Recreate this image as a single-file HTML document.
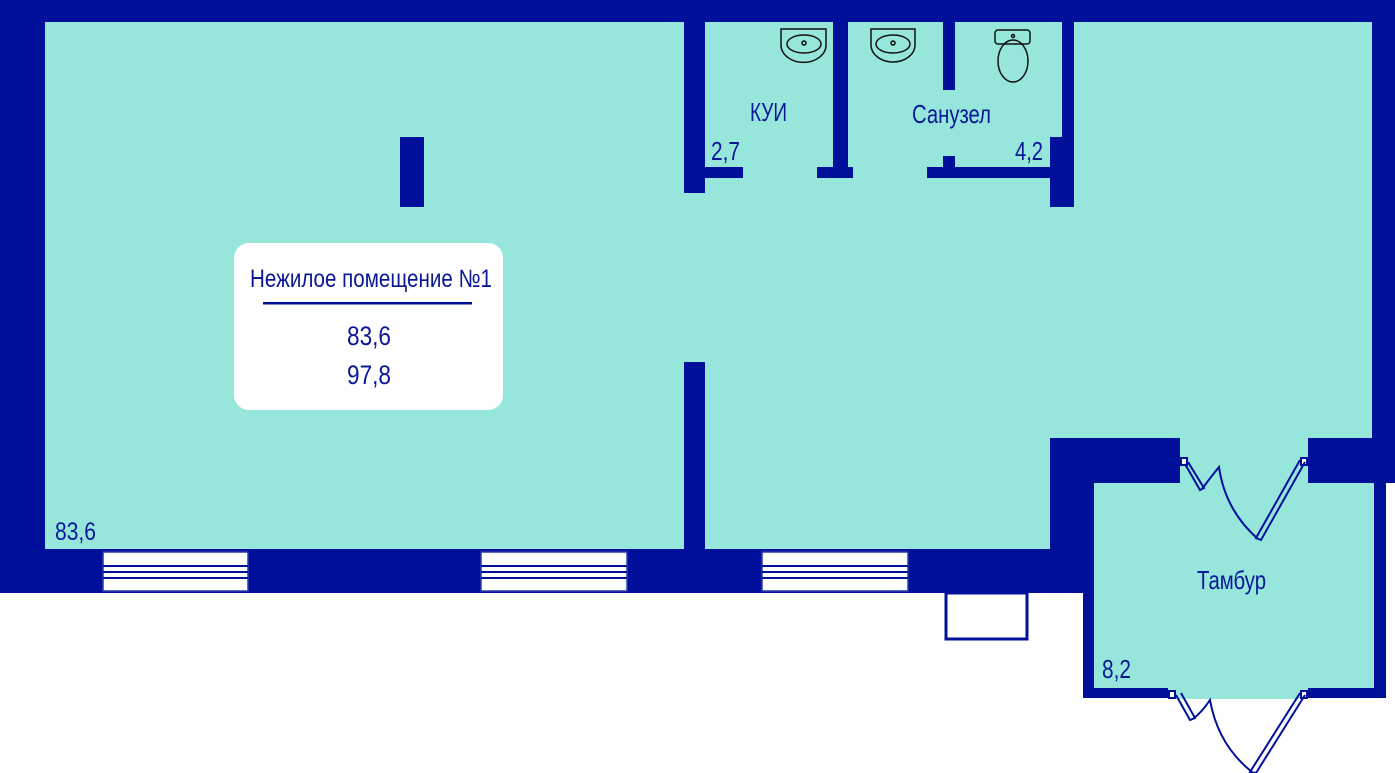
<!DOCTYPE html>
<html><head><meta charset="utf-8"><style>
html,body{margin:0;padding:0;background:#fff;}
svg{display:block}
text{font-family:"Liberation Sans Narrow","Liberation Sans",sans-serif;fill:#0a1896;}
</style></head><body>
<svg width="1395" height="773" viewBox="0 0 1395 773" xmlns="http://www.w3.org/2000/svg">
<rect x="0" y="0" width="1395" height="593" fill="#00109a"/>
<rect x="1083" y="438" width="303" height="260" fill="#00109a"/>
<rect x="1386" y="483" width="9" height="110" fill="#fff"/>
<path d="M45 22 H1372 V438 H1050 V549 H45 Z" fill="#96e6dc"/>
<rect x="1094" y="483" width="280" height="205" fill="#96e6dc"/>
<rect x="1180" y="438" width="128" height="46" fill="#96e6dc"/>
<rect x="1168" y="687" width="140" height="12" fill="#96e6dc"/>
<g fill="#00109a">
<rect x="684" y="22" width="21" height="171"/>
<rect x="684" y="362" width="21" height="188"/>
<rect x="400" y="137" width="24" height="70"/>
<rect x="833" y="22" width="15" height="156"/>
<rect x="705" y="167" width="38" height="11"/>
<rect x="817" y="167" width="36" height="11"/>
<rect x="927" y="167" width="123" height="11"/>
<rect x="943" y="22" width="12" height="68"/>
<rect x="943" y="156" width="12" height="12"/>
<rect x="1062" y="22" width="12" height="185"/>
<rect x="1050" y="137" width="24" height="70"/>
</g>
<g fill="#fff" stroke="#2a3aaf" stroke-width="1.5">
<rect x="103" y="552" width="145" height="39"/>
<rect x="481" y="552" width="146" height="39"/>
<rect x="762" y="552" width="146" height="39"/>
</g>
<g stroke="#00109a" stroke-width="2">
<line x1="103" y1="566" x2="248" y2="566"/><line x1="103" y1="572" x2="248" y2="572"/><line x1="103" y1="578" x2="248" y2="578"/>
<line x1="481" y1="566" x2="627" y2="566"/><line x1="481" y1="572" x2="627" y2="572"/><line x1="481" y1="578" x2="627" y2="578"/>
<line x1="762" y1="566" x2="908" y2="566"/><line x1="762" y1="572" x2="908" y2="572"/><line x1="762" y1="578" x2="908" y2="578"/>
</g>
<rect x="946" y="593" width="81" height="46" fill="#fff" stroke="#00109a" stroke-width="3"/>
<g fill="none" stroke="#111" stroke-width="1.5">
<path d="M781 29 H826 V45 A22 17 0 0 1 781 45 Z"/><ellipse cx="804" cy="44" rx="17" ry="9"/><circle cx="804" cy="43" r="2"/>
<path d="M871 29 H915 V45 A22 17 0 0 1 871 45 Z"/><ellipse cx="893" cy="44" rx="17" ry="9"/><circle cx="893" cy="43" r="2"/>
<rect x="995" y="30" width="35" height="14" rx="3"/><ellipse cx="1013" cy="61" rx="15" ry="21"/><circle cx="1013" cy="36" r="1.5"/>
</g>
<g fill="none" stroke="#00109a" stroke-width="2">
<rect x="1181" y="458" width="6" height="7" fill="#fff"/>
<path d="M1188 462 L1204 488 L1200 490 L1185 464"/>
<path d="M1202 489 Q1210 478 1219 467 Q1225 510 1258 539"/>
<rect x="1301" y="458" width="6" height="7" fill="#fff"/>
<path d="M1300 460 L1256 538 L1261 540 L1305 462"/>
<rect x="1169" y="691" width="6" height="7" fill="#fff"/>
<path d="M1176 695 L1190 720 L1195 718 L1181 693"/>
<path d="M1193 719 Q1202 712 1210 700 Q1218 745 1252 772"/>
<rect x="1301" y="691" width="6" height="7" fill="#fff"/>
<path d="M1300 693 L1250 772 L1256 773 L1305 695"/>
</g>
<rect x="234" y="243" width="269" height="167" rx="15" fill="#fff"/>
<text x="250" y="287" font-size="25" textLength="242" lengthAdjust="spacingAndGlyphs">Нежилое помещение №1</text>
<rect x="263" y="302" width="209" height="2.5" fill="#00109a"/>
<text x="347" y="345" font-size="27" textLength="44" lengthAdjust="spacingAndGlyphs">83,6</text>
<text x="347" y="384" font-size="27" textLength="44" lengthAdjust="spacingAndGlyphs">97,8</text>
<text x="55" y="540" font-size="25" textLength="41" lengthAdjust="spacingAndGlyphs">83,6</text>
<text x="750" y="121" font-size="26" textLength="37" lengthAdjust="spacingAndGlyphs">КУИ</text>
<text x="912" y="123" font-size="26" textLength="79" lengthAdjust="spacingAndGlyphs">Санузел</text>
<text x="711" y="160" font-size="26" textLength="29" lengthAdjust="spacingAndGlyphs">2,7</text>
<text x="1015" y="160" font-size="26" textLength="28" lengthAdjust="spacingAndGlyphs">4,2</text>
<text x="1197" y="589" font-size="26" textLength="69" lengthAdjust="spacingAndGlyphs">Тамбур</text>
<text x="1102" y="678" font-size="26" textLength="29" lengthAdjust="spacingAndGlyphs">8,2</text>
</svg>
</body></html>
